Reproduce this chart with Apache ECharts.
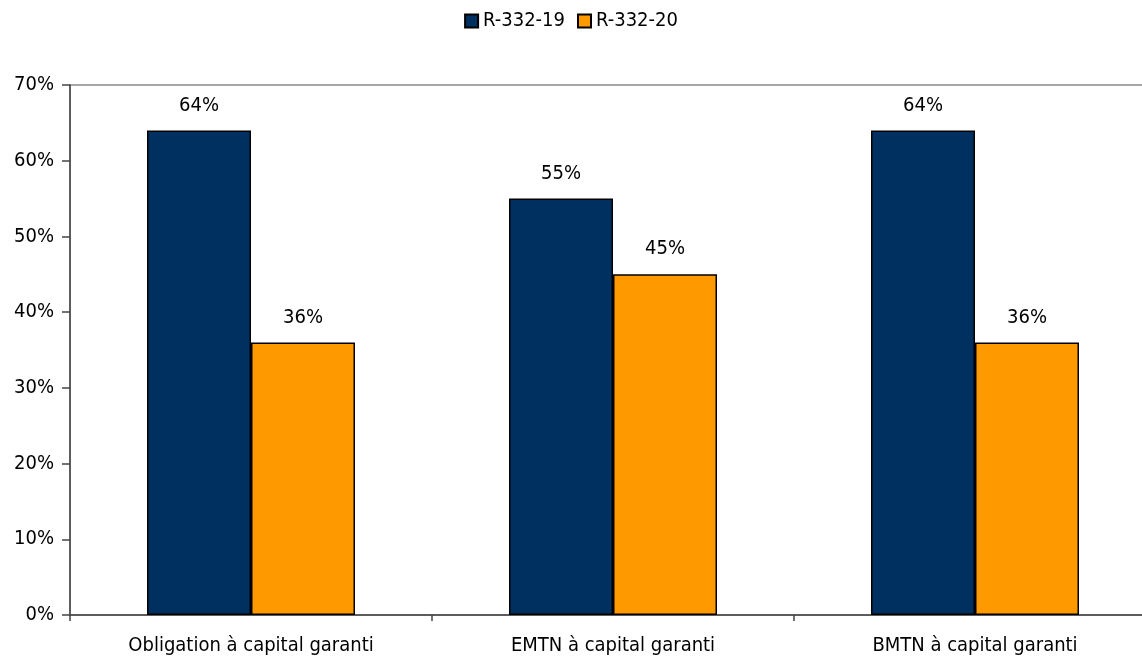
<!DOCTYPE html>
<html><head><meta charset="utf-8">
<script src="https://cdn.jsdelivr.net/npm/echarts@6/dist/echarts.min.js"></script>
<style>html,body{margin:0;padding:0;background:#fff}#c{width:1142px;height:667px}</style>
</head><body><div id="c"></div>
<script>
var categories = ["Obligation à capital garanti", "EMTN à capital garanti", "BMTN à capital garanti"];
var seriesNames = ["R-332-19", "R-332-20"];
var valuesA = [64, 55, 64];
var valuesB = [36, 45, 36];
var yTicks = [0, 10, 20, 30, 40, 50, 60, 70];

var FONT = '"DejaVu Sans Condensed", "DejaVu Sans", sans-serif';
var chart = echarts.init(document.getElementById('c'));
var lbl = {show: true, position: 'top', distance: 15, color: '#000', fontSize: 20, fontFamily: FONT, formatter: '{c}%'};
chart.setOption({
  animation: false,
  textStyle: {fontFamily: FONT},
  legend: {
    top: 6, left: 'center', itemWidth: 13, itemHeight: 13, itemGap: 12,
    textStyle: {fontSize: 20, color: '#000', fontFamily: FONT},
    data: seriesNames.map(function(n){return {name: n, icon: 'rect'};})
  },
  grid: {left: 70, right: -14, top: 85, bottom: 52, outerBoundsMode: 'none', containLabel: false,
         show: true, borderColor: '#8a8a8a', borderWidth: 1.5},
  xAxis: {
    type: 'category', data: categories,
    axisLine: {lineStyle: {color: '#444', width: 1.5}},
    axisTick: {show: true, length: 6, alignWithLabel: false, lineStyle: {color: '#444', width: 1.5}},
    axisLabel: {color: '#000', fontSize: 20, margin: 21, fontFamily: FONT}
  },
  yAxis: {
    type: 'value', min: yTicks[0], max: yTicks[yTicks.length - 1], interval: 10,
    axisLine: {show: true, lineStyle: {color: '#444', width: 1.5}},
    axisTick: {show: true, length: 8, lineStyle: {color: '#444', width: 1.5}},
    splitLine: {show: false},
    axisLabel: {color: '#000', fontSize: 20, margin: 16, fontFamily: FONT, formatter: '{value}%'}
  },
  series: [
    {name: seriesNames[0], type: 'bar', data: valuesA, barWidth: 104, barGap: '0%',
     itemStyle: {color: '#003060', borderColor: '#000', borderWidth: 1.5}, label: lbl},
    {name: seriesNames[1], type: 'bar', data: valuesB, barWidth: 104, barGap: '0%',
     itemStyle: {color: '#FF9900', borderColor: '#000', borderWidth: 1.5}, label: lbl}
  ]
});
</script></body></html>
